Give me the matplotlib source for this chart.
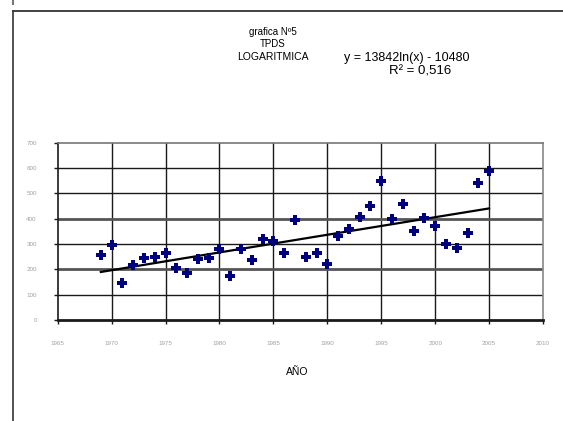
import matplotlib
matplotlib.use("Agg")
import matplotlib.pyplot as plt
import numpy as np
from matplotlib.lines import Line2D

plt.rcParams['font.family'] = ['Liberation Sans', 'DejaVu Sans']

# datos
years = [1969, 1970, 1971, 1972, 1973, 1974, 1975, 1976, 1977, 1978,
         1979, 1980, 1981, 1982, 1983, 1984, 1985, 1986, 1987, 1988,
         1989, 1990, 1991, 1992, 1993, 1994, 1995, 1996, 1997, 1998,
         1999, 2000, 2001, 2002, 2003, 2004, 2005]
tpds = [257, 296, 146, 217, 245, 247, 263, 206, 184, 242,
        243, 279, 174, 282, 237, 321, 312, 263, 394, 247,
        266, 222, 333, 359, 406, 450, 549, 397, 457, 352,
        401, 371, 302, 283, 342, 539, 588]

xticks = [1965, 1970, 1975, 1980, 1985, 1990, 1995, 2000, 2005, 2010]
yticks = [0, 100, 200, 300, 400, 500, 600, 700]

x = np.array(years, dtype=float)
y = np.array(tpds, dtype=float)
a, b = np.polyfit(np.log(x), y, 1)
xfit = np.linspace(x.min(), x.max(), 50)
yfit = a * np.log(xfit) + b

fig = plt.figure(figsize=(5.63, 4.21), dpi=100)
ax = fig.add_axes([0.1025, 0.2399, 0.862, 0.4211])

# rejilla
for xv in xticks[1:-1]:
    ax.axvline(xv, color='#1a1a1a', lw=1.0, zorder=1)
for yv in yticks[1:-1]:
    if yv in (200, 400):
        ax.axhline(yv, color='#555555', lw=2.0, zorder=1)
    else:
        ax.axhline(yv, color='#1a1a1a', lw=1.0, zorder=1)

ax.plot(xfit, yfit, color='black', lw=1.6, zorder=2)
ax.plot(x, y, linestyle='none', marker='P', markersize=7,
        color='#00007f', markeredgewidth=0, zorder=3)

ax.set_xlim(1965, 2010)
ax.set_ylim(0, 700)
ax.set_xticks(xticks)
ax.set_yticks(yticks)
ax.tick_params(axis='both', labelsize=4.5, labelcolor='#a0a0a0',
               length=3, width=1, color='#1a1a1a')
ax.tick_params(axis='y', pad=12)
ax.tick_params(axis='x', pad=12)

ax.spines['left'].set_color('#1a1a1a')
ax.spines['left'].set_linewidth(1.2)
ax.spines['bottom'].set_color('#1a1a1a')
ax.spines['bottom'].set_linewidth(2.0)
ax.spines['top'].set_color('#777777')
ax.spines['top'].set_linewidth(1.2)
ax.spines['right'].set_color('#888888')
ax.spines['right'].set_linewidth(1.2)

# textos
fig.text(273 / 563, 1 - 32 / 421, 'grafica Nº5', ha='center', va='center', fontsize=7)
fig.text(273 / 563, 1 - 44 / 421, 'TPDS', ha='center', va='center', fontsize=7)
fig.text(273 / 563, 1 - 57 / 421, 'LOGARITMICA', ha='center', va='center', fontsize=7.5)
fig.text(407 / 563, 1 - 58 / 421, 'y = 13842ln(x) - 10480', ha='center', va='center', fontsize=9)
fig.text(420 / 563, 1 - 72 / 421, 'R² = 0,516', ha='center', va='center', fontsize=9.5)
fig.text(297 / 563, 1 - 372 / 421, 'AÑO', ha='center', va='center', fontsize=7.5)

# marco
fig.add_artist(Line2D([13 / 563, 1], [1 - 11 / 421, 1 - 11 / 421], color='#222222', lw=1.2))
fig.add_artist(Line2D([13 / 563, 13 / 563], [0, 1 - 11 / 421], color='#333333', lw=1.2))
fig.add_artist(Line2D([13 / 563, 13 / 563], [1, 1 - 4 / 421], color='#777777', lw=1.5))

fig.savefig('out.png', dpi=100)
